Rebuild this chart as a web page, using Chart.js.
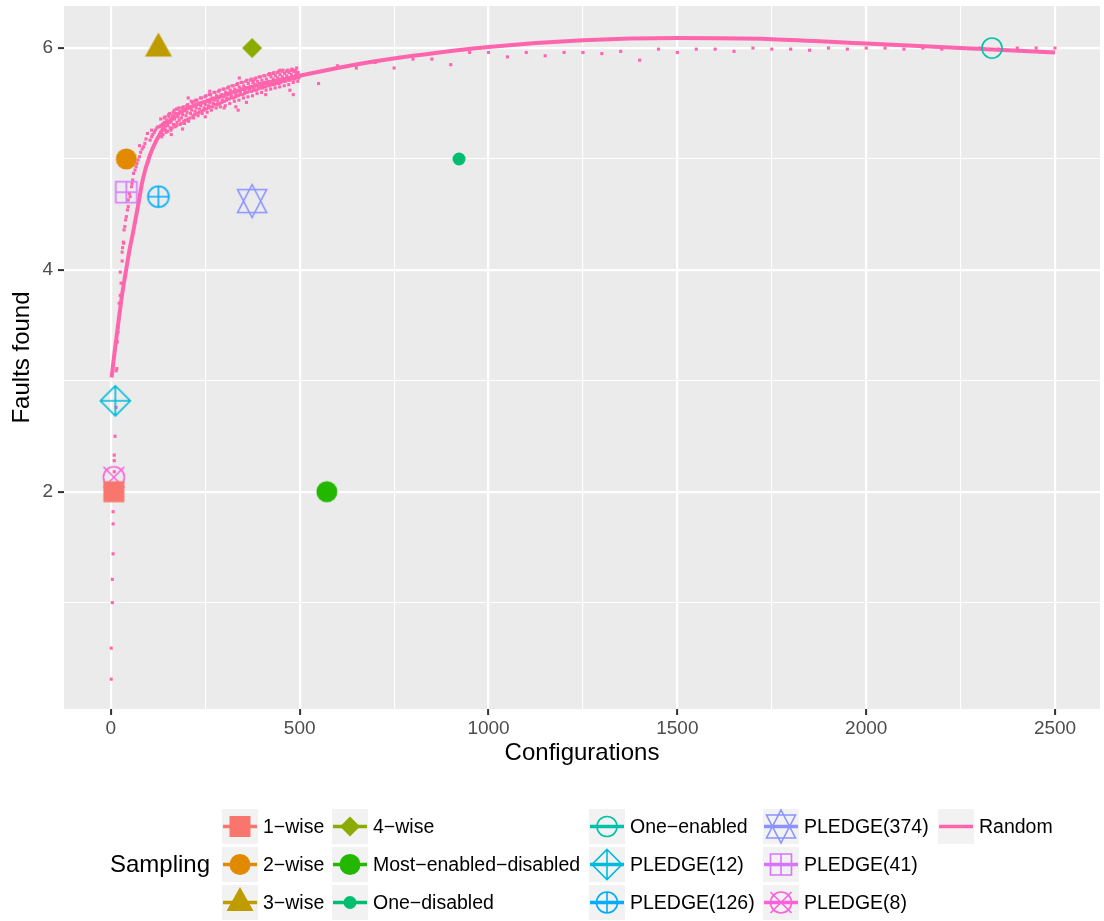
<!DOCTYPE html>
<html>
<head>
<meta charset="utf-8">
<title>Faults found by sampling strategy</title>
<script src="https://cdn.jsdelivr.net/npm/chart.js@4.4.1/dist/chart.umd.min.js"></script>
<style>
  html, body { margin: 0; padding: 0; background: #ffffff; }
  #wrap { width: 1104px; height: 921px; position: relative; }
</style>
</head>
<body>
<div id="wrap"><canvas id="chart" width="1104" height="921"></canvas></div>
<script>
// ---- data -------------------------------------------------------------
const samplingNames = ['1−wise', '2−wise', '3−wise', '4−wise', 'Most−enabled−disabled', 'One−disabled',
  'One−enabled', 'PLEDGE(12)', 'PLEDGE(126)', 'PLEDGE(374)', 'PLEDGE(41)', 'PLEDGE(8)'];
const samplingConfigs = [8, 41, 126, 374, 572, 922, 2333, 12, 126, 374, 41, 8];
const samplingFaults = [2, 5, 6, 6, 2, 5, 6, 2.82, 4.66, 4.62, 4.70, 2.13];

// random sampling runs: [configurations, faults found]
const randomRuns = [
  [1,0.31],[1,0.59],[4,1.00],[4,1.21],[6,1.44],[6,1.71],[6,1.82],[9,2.18],[9,2.28],[9,2.33],
  [11,2.50],[14,2.76],[14,3.09],[16,3.11],[17,3.35],[19,3.44],[19,3.48],[22,3.70],[25,3.77],[27,3.88],
  [25,3.98],[30,4.08],[30,4.16],[31,4.20],[33,4.25],[34,4.24],[35,4.36],[37,4.39],[39,4.45],[41,4.48],
  [44,4.54],[46,4.57],[46,4.63],[49,4.69],[51,4.66],[55,4.75],[56,4.78],[58,4.81],[60,4.87],[58,4.96],
  [64,4.90],[67,4.93],[69,4.96],[72,4.99],[76,5.02],[79,5.06],[76,5.12],[83,5.09],[87,5.11],[90,5.14],
  [93,5.18],[97,5.23],[100,4.98],[104,5.17],[108,5.20],[108,5.26],[111,5.22],[115,5.24],[118,5.26],[122,5.28],
  [125,5.29],[132,5.30],[139,5.32],[148,5.34],[157,5.33],
  [130,5.29],[133,5.24],[136,5.31],[139,5.27],[142,5.33],[145,5.26],[148,5.35],[151,5.30],[154,5.38],[157,5.28],
  [160,5.34],[163,5.39],[166,5.31],[169,5.36],[172,5.41],[175,5.33],[178,5.38],[181,5.35],[184,5.43],[187,5.37],
  [190,5.40],[193,5.34],[196,5.44],[199,5.39],[202,5.42],[205,5.36],[208,5.46],[211,5.41],[214,5.44],[217,5.39],
  [220,5.48],[223,5.43],[226,5.46],[229,5.41],[232,5.50],[235,5.45],[238,5.48],[241,5.43],[244,5.51],[247,5.46],
  [250,5.49],[253,5.45],[256,5.53],[259,5.48],[262,5.51],[265,5.47],[268,5.55],[271,5.50],[274,5.53],[277,5.49],
  [280,5.57],[283,5.52],[286,5.55],[289,5.50],[292,5.58],[295,5.53],[298,5.56],[301,5.52],[304,5.60],[307,5.55],
  [310,5.58],[313,5.54],[316,5.62],[319,5.57],[322,5.60],[325,5.55],[328,5.63],[331,5.58],[334,5.61],[337,5.57],
  [340,5.65],[343,5.60],[346,5.63],[349,5.58],[352,5.66],[355,5.61],[358,5.64],[361,5.60],[364,5.68],[367,5.62],
  [370,5.65],[373,5.61],[376,5.69],[379,5.64],[382,5.67],[385,5.62],[388,5.70],[391,5.65],[394,5.68],[397,5.64],
  [400,5.71],[403,5.66],[406,5.69],[409,5.65],[412,5.72],[415,5.67],[418,5.70],[421,5.66],[424,5.74],[427,5.69],
  [430,5.72],[433,5.67],[436,5.75],[439,5.70],[442,5.73],[445,5.68],[448,5.76],[451,5.71],[454,5.74],[457,5.70],
  [460,5.77],[463,5.72],[466,5.75],[469,5.71],[472,5.78],[475,5.73],[478,5.76],[481,5.72],[484,5.79],[487,5.74],
  [490,5.77],[493,5.73],[496,5.78],[499,5.75],
  [132,5.36],[138,5.22],[144,5.38],[150,5.25],[156,5.41],[162,5.28],[168,5.44],[174,5.30],[180,5.46],[186,5.32],
  [192,5.47],[198,5.35],[204,5.49],[210,5.37],[216,5.51],[222,5.40],[228,5.53],[234,5.42],[240,5.55],[246,5.44],
  [252,5.57],[258,5.46],[264,5.58],[270,5.47],[276,5.60],[282,5.49],[288,5.62],[294,5.51],[300,5.63],[306,5.53],
  [312,5.65],[318,5.55],[324,5.66],[330,5.56],[336,5.68],[342,5.58],[348,5.69],[354,5.59],[360,5.71],[366,5.61],
  [372,5.72],[378,5.62],[384,5.73],[390,5.63],[396,5.74],[402,5.64],[408,5.75],[414,5.66],[420,5.77],[426,5.67],
  [432,5.78],[438,5.68],[444,5.79],[450,5.69],[456,5.80],[462,5.70],[468,5.80],[474,5.71],[480,5.81],[486,5.72],
  [492,5.82],[498,5.73],
  [135,5.20],[141,5.37],[146,5.24],[153,5.40],[159,5.26],[165,5.42],[170,5.29],[177,5.45],[183,5.31],[188,5.46],
  [195,5.32],[201,5.48],[206,5.34],[213,5.52],[219,5.37],[225,5.53],[231,5.39],[237,5.55],[242,5.41],[249,5.56],
  [255,5.42],[261,5.58],[266,5.44],[273,5.60],[279,5.46],[285,5.61],[290,5.47],[297,5.63],[303,5.48],[309,5.64],
  [315,5.50],[321,5.66],[327,5.52],[333,5.67],[339,5.53],[345,5.69],[351,5.55],[357,5.70],[363,5.56],[369,5.71],
  [375,5.57],[381,5.72],[387,5.59],[393,5.74],[399,5.60],[405,5.75],[411,5.62],[417,5.76],[423,5.63],[429,5.77],
  [435,5.64],[441,5.78],[447,5.65],[453,5.79],[459,5.66],[465,5.79],[471,5.67],[477,5.80],[483,5.69],[489,5.80],
  [495,5.70],
  [174,5.45],[222,5.52],[262,5.61],[337,5.44],[331,5.47],[359,5.51],[340,5.73],[377,5.70],[421,5.76],[448,5.80],
  [478,5.80],[483,5.58],[474,5.62],[492,5.78],[480,5.80],[205,5.55],[160,5.22],[190,5.27],[250,5.38],[300,5.46],
  [410,5.58],
  [550,5.68],[600,5.84],[650,5.82],[700,5.87],[750,5.82],[800,5.90],[850,5.90],[900,5.85],[950,5.96],[1000,5.96],
  [1050,5.92],[1100,5.96],[1150,5.93],[1200,5.96],[1250,5.96],[1300,5.95],[1350,5.97],[1400,5.89],[1450,5.99],[1500,5.96],
  [1550,5.99],[1600,5.99],[1650,5.97],[1700,6.00],[1750,5.99],[1800,5.99],[1850,5.98],[1900,6.00],[1950,5.99],[2000,6.00],
  [2050,6.00],[2100,5.99],[2150,6.00],[2200,5.99],[2250,6.00],[2300,6.00],[2350,5.99],[2400,6.00],[2450,6.00],[2500,6.00]
];

// smoothed trend of the random runs
const trendConfigs = [2, 5, 10, 19, 30, 41, 50, 59, 70, 85, 103, 121, 140, 164, 200, 262, 330, 394, 500, 600,
  700, 800, 1000, 1250, 1500, 1750, 2000, 2250, 2500];
const trendFaults = [3.03, 3.12, 3.26, 3.50, 3.78, 4.01, 4.19, 4.34, 4.54, 4.82, 5.03, 5.17, 5.28, 5.37, 5.45, 5.53, 5.61, 5.67, 5.75, 5.82,
  5.88, 5.93, 6.01, 6.07, 6.09, 6.08, 6.04, 6.00, 5.96];

const xMajorBreaks = [0, 500, 1000, 1500, 2000, 2500];
const xMinorBreaks = [250, 750, 1250, 1750, 2250];
const yMajorBreaks = [2, 4, 6];
const yMinorBreaks = [1, 3, 5];

// ---- style ------------------------------------------------------------
const FONT = '"Liberation Sans", Arial, Helvetica, sans-serif';
const samplingColors = ['#F8766D', '#E18A00', '#BE9C00', '#8CAB00', '#24B700', '#00BE70',
  '#00C1AB', '#00BBDA', '#00ACFC', '#8B93FF', '#D575FE', '#F962DD'];
const samplingShapes = ['square', 'disc', 'triangle', 'diamond', 'disc', 'smalldisc',
  'ring', 'diamondplus', 'circleplus', 'star', 'squareplus', 'circlecross'];
const randomColor = '#FF65AC';

function drawMarker(ctx, kind, color, cx, cy) {
  ctx.save();
  ctx.fillStyle = color;
  ctx.strokeStyle = color;
  ctx.lineWidth = 1.6;
  ctx.lineJoin = 'miter';
  ctx.beginPath();
  switch (kind) {
    case 'square':
      ctx.fillRect(cx - 10.5, cy - 10.5, 21, 21);
      break;
    case 'disc':
      ctx.arc(cx, cy, 10.5, 0, Math.PI * 2); ctx.fill();
      break;
    case 'smalldisc':
      ctx.arc(cx, cy, 6.5, 0, Math.PI * 2); ctx.fill();
      break;
    case 'triangle':
      ctx.moveTo(cx, cy - 15.5); ctx.lineTo(cx + 13.5, cy + 8.5); ctx.lineTo(cx - 13.5, cy + 8.5);
      ctx.closePath(); ctx.fill();
      break;
    case 'diamond':
      ctx.moveTo(cx, cy - 10); ctx.lineTo(cx + 10, cy); ctx.lineTo(cx, cy + 10); ctx.lineTo(cx - 10, cy);
      ctx.closePath(); ctx.fill();
      break;
    case 'ring':
      ctx.arc(cx, cy, 10, 0, Math.PI * 2); ctx.stroke();
      break;
    case 'diamondplus':
      ctx.moveTo(cx, cy - 15); ctx.lineTo(cx + 15, cy); ctx.lineTo(cx, cy + 15); ctx.lineTo(cx - 15, cy);
      ctx.closePath();
      ctx.moveTo(cx - 15, cy); ctx.lineTo(cx + 15, cy);
      ctx.moveTo(cx, cy - 15); ctx.lineTo(cx, cy + 15);
      ctx.stroke();
      break;
    case 'circleplus':
      ctx.arc(cx, cy, 10.5, 0, Math.PI * 2);
      ctx.moveTo(cx - 10.5, cy); ctx.lineTo(cx + 10.5, cy);
      ctx.moveTo(cx, cy - 10.5); ctx.lineTo(cx, cy + 10.5);
      ctx.stroke();
      break;
    case 'star':
      ctx.moveTo(cx, cy - 16.5); ctx.lineTo(cx + 14.5, cy + 11.5); ctx.lineTo(cx - 14.5, cy + 11.5); ctx.closePath();
      ctx.moveTo(cx, cy + 16.5); ctx.lineTo(cx + 14.5, cy - 11.5); ctx.lineTo(cx - 14.5, cy - 11.5); ctx.closePath();
      ctx.stroke();
      break;
    case 'squareplus':
      ctx.rect(cx - 10.5, cy - 10.5, 21, 21);
      ctx.moveTo(cx - 10.5, cy); ctx.lineTo(cx + 10.5, cy);
      ctx.moveTo(cx, cy - 10.5); ctx.lineTo(cx, cy + 10.5);
      ctx.stroke();
      break;
    case 'circlecross':
      ctx.arc(cx, cy, 10.5, 0, Math.PI * 2);
      ctx.moveTo(cx - 10.5, cy - 10.5); ctx.lineTo(cx + 10.5, cy + 10.5);
      ctx.moveTo(cx + 10.5, cy - 10.5); ctx.lineTo(cx - 10.5, cy + 10.5);
      ctx.stroke();
      break;
  }
  ctx.restore();
}

function markerImage(kind, color) {
  const c = document.createElement('canvas');
  c.width = 40; c.height = 40;
  drawMarker(c.getContext('2d'), kind, color, 20, 20);
  return c;
}

// ---- datasets ---------------------------------------------------------
const datasets = samplingNames.map((name, i) => ({
  label: name,
  data: [{ x: samplingConfigs[i], y: samplingFaults[i] }],
  pointStyle: markerImage(samplingShapes[i], samplingColors[i]),
  pointRadius: 12,
  showLine: false,
  order: 1
}));

datasets.push({
  label: 'Random runs',
  data: randomRuns.map(r => ({ x: r[0], y: r[1] })),
  pointStyle: 'rect',
  pointRadius: 2.2,
  backgroundColor: randomColor,
  borderWidth: 0,
  showLine: false,
  order: 3
});

datasets.push({
  label: 'Random',
  data: trendConfigs.map((x, i) => ({ x, y: trendFaults[i] })),
  showLine: true,
  borderColor: randomColor,
  borderWidth: 4,
  pointRadius: 0,
  cubicInterpolationMode: 'monotone',
  order: 2
});

// ---- plugins ----------------------------------------------------------
const panelBackground = {
  id: 'panelBackground',
  beforeDraw(chart) {
    const { ctx, chartArea: a } = chart;
    ctx.save();
    ctx.fillStyle = '#ffffff';
    ctx.fillRect(0, 0, chart.width, chart.height);
    ctx.fillStyle = '#EBEBEB';
    ctx.fillRect(a.left, a.top, a.right - a.left, a.bottom - a.top);
    ctx.restore();
  }
};

const legendEntries = samplingNames.map((n, i) => ({ label: n, color: samplingColors[i], shape: samplingShapes[i] }))
  .concat([{ label: 'Random', color: randomColor, shape: null }]);

const samplingLegend = {
  id: 'samplingLegend',
  afterDraw(chart) {
    const ctx = chart.ctx;
    const keyX = [222, 332, 589, 763, 938];
    const keyTop = 809, rowStep = 38, keyW = 36, keyH = 35;
    ctx.save();
    ctx.textAlign = 'left';
    ctx.textBaseline = 'middle';
    ctx.fillStyle = '#000000';
    ctx.font = '24px ' + FONT;
    ctx.fillText('Sampling', 110, keyTop + rowStep + keyH / 2 + 1);
    ctx.font = '19.5px ' + FONT;
    legendEntries.forEach((e, k) => {
      const col = Math.floor(k / 3), row = k % 3;
      const x = keyX[col], y = keyTop + row * rowStep;
      const cy = y + keyH / 2;
      ctx.fillStyle = '#F2F2F2';
      ctx.fillRect(x, y, keyW, keyH);
      ctx.strokeStyle = e.color;
      ctx.lineWidth = 3.6;
      ctx.beginPath();
      ctx.moveTo(x + 1, cy); ctx.lineTo(x + keyW - 1, cy);
      ctx.stroke();
      if (e.shape) drawMarker(ctx, e.shape, e.color, x + keyW / 2, cy);
      ctx.fillStyle = '#000000';
      ctx.fillText(e.label, x + keyW + 5, cy + 1);
    });
    ctx.restore();
  }
};

// ---- chart ------------------------------------------------------------
const isMajor = (v, majors) => majors.includes(v);
const noEdgePadding = s => { s.paddingTop = 0; s.paddingBottom = 0; s.paddingLeft = 0; s.paddingRight = 0; };

new Chart(document.getElementById('chart'), {
  type: 'scatter',
  data: { datasets },
  plugins: [panelBackground, samplingLegend],
  options: {
    responsive: false,
    animation: false,
    devicePixelRatio: 1,
    events: [],
    layout: { autoPadding: false, padding: { top: 6, right: 4, bottom: 150, left: 0 } },
    plugins: { legend: { display: false }, tooltip: { enabled: false } },
    scales: {
      x: {
        type: 'linear',
        min: -124,
        max: 2619,
        afterBuildTicks: s => { s.ticks = xMajorBreaks.concat(xMinorBreaks).sort((a, b) => a - b).map(v => ({ value: v })); },
        afterFit: s => { s.height = 62; noEdgePadding(s); },
        border: { display: false },
        grid: {
          color: '#FFFFFF',
          lineWidth: c => isMajor(c.tick.value, xMajorBreaks) ? 2.2 : 1.1,
          drawTicks: true,
          tickLength: 6,
          tickWidth: 2,
          tickColor: c => isMajor(c.tick.value, xMajorBreaks) ? '#333333' : 'rgba(0,0,0,0)'
        },
        ticks: {
          autoSkip: false,
          maxRotation: 0,
          padding: 2,
          color: '#4D4D4D',
          font: { family: FONT, size: 19 },
          callback: v => isMajor(v, xMajorBreaks) ? String(v) : ''
        },
        title: {
          display: true,
          text: 'Configurations',
          color: '#000000',
          font: { family: FONT, size: 24 },
          padding: { top: 0, bottom: 3 }
        }
      },
      y: {
        type: 'linear',
        min: 0.041,
        max: 6.379,
        afterBuildTicks: s => { s.ticks = yMinorBreaks.concat(yMajorBreaks).sort((a, b) => a - b).map(v => ({ value: v })); },
        afterFit: s => { s.width = 64; noEdgePadding(s); },
        border: { display: false },
        grid: {
          color: '#FFFFFF',
          lineWidth: c => isMajor(c.tick.value, yMajorBreaks) ? 2.2 : 1.1,
          drawTicks: true,
          tickLength: 6,
          tickWidth: 2,
          tickColor: c => isMajor(c.tick.value, yMajorBreaks) ? '#333333' : 'rgba(0,0,0,0)'
        },
        ticks: {
          autoSkip: false,
          padding: 5,
          color: '#4D4D4D',
          font: { family: FONT, size: 19 },
          callback: v => isMajor(v, yMajorBreaks) ? String(v) : ''
        },
        title: {
          display: true,
          text: 'Faults found',
          color: '#000000',
          font: { family: FONT, size: 24 },
          padding: { top: 8, bottom: 0 }
        }
      }
    }
  }
});
</script>
</body>
</html>
